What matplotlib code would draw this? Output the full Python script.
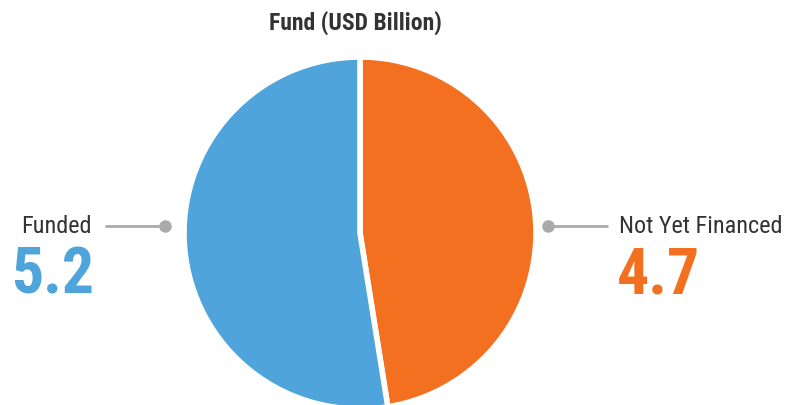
import matplotlib.pyplot as plt

labels = ["Not Yet Financed", "Funded"]
values = [4.7, 5.2]
colors = ["#F37021", "#4FA5DB"]
title = "Fund (USD Billion)"

W, H = 785, 405
fig = plt.figure(figsize=(W / 100, H / 100), dpi=100)
ax = fig.add_axes([0, 0, 1, 1])

fam = ["Roboto Condensed", "Roboto"]

ax.pie(values, colors=colors, startangle=90, counterclock=False,
       center=(360, H - 233), radius=176,
       wedgeprops=dict(edgecolor="white", linewidth=4))
ax.set_xlim(0, W)
ax.set_ylim(0, H)
ax.set_aspect("equal")
ax.axis("off")

ax.text(355, H - 30, title, ha="center", va="baseline", fontsize=17,
        fontweight="bold", family=fam, color="#333333")

# leader lines with end dots
gray = "#AAAAAA"
ax.plot([105, 165], [H - 226, H - 226], color=gray, lw=2, solid_capstyle="butt")
ax.plot([165], [H - 226], "o", color=gray, ms=8)
ax.plot([548, 608], [H - 226, H - 226], color=gray, lw=2, solid_capstyle="butt")
ax.plot([548], [H - 226], "o", color=gray, ms=8)

# left label (Funded)
ax.text(21, H - 233, labels[1], ha="left", va="baseline", fontsize=17.5,
        family=fam, color="#333333")
ax.text(11, H - 294, f"{values[1]:.1f}", ha="left", va="baseline", fontsize=46,
        fontweight="bold", family=fam, color=colors[1])

# right label (Not Yet Financed)
ax.text(619, H - 233, labels[0], ha="left", va="baseline", fontsize=17.5,
        family=fam, color="#333333")
ax.text(617, H - 294, f"{values[0]:.1f}", ha="left", va="baseline", fontsize=46,
        fontweight="bold", family=fam, color=colors[0])

fig.savefig("out.png", dpi=100)
